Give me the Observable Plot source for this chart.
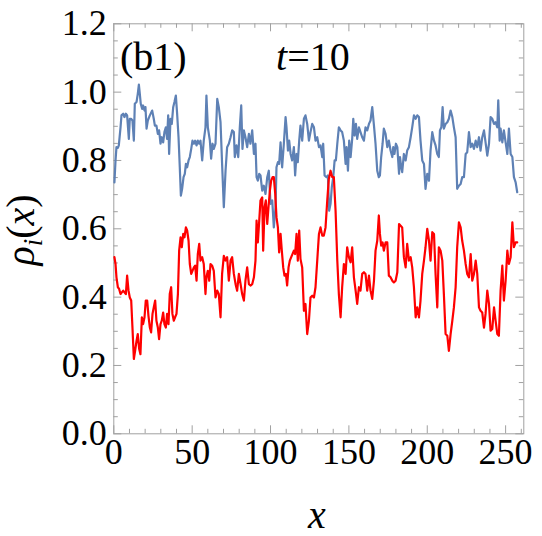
<!DOCTYPE html>
<html><head><meta charset="utf-8">
<script src="https://cdn.jsdelivr.net/npm/d3@7"></script>
<script src="https://cdn.jsdelivr.net/npm/@observablehq/plot@0.6"></script>
<style>body{margin:0;background:#fff;} #chart svg{display:block;}</style>
</head><body><div id="chart"></div>
<script>
// rho_1 (blue) and rho_2 (red) samples: [x, rho]
const blue = [
[0.4,0.736],[1.1,0.800],[1.7,0.839],[2.6,0.837],[3.2,0.844],[4.3,0.897],[4.9,0.932],[6.0,0.937],[6.8,0.927],[7.7,0.937],[8.5,0.932],[9.6,0.863],[10.2,0.922],[11.1,0.922],[11.9,0.917],[12.8,0.858],[13.4,0.966],[14.5,0.971],[15.3,0.995],[16.0,1.022],[16.6,0.995],[17.2,0.966],[18.1,0.951],[18.7,0.961],[19.6,0.946],[20.2,0.956],[20.9,0.893],[21.7,0.917],[23.0,0.932],[24.5,0.946],[25.5,0.922],[26.2,0.902],[27.2,0.902],[28.1,0.878],[28.9,0.888],[29.8,0.849],[30.6,0.868],[31.5,0.853],[32.3,0.883],[33.2,0.897],[34.0,0.863],[34.7,0.932],[35.3,0.819],[36.2,0.922],[37.0,0.907],[37.9,0.956],[38.7,0.971],[39.6,0.990],[40.4,0.937],[41.3,0.868],[42.1,0.780],[42.8,0.697],[43.6,0.717],[44.5,0.751],[45.3,0.761],[46.0,0.790],[46.8,0.780],[47.7,0.800],[48.5,0.810],[49.4,0.834],[50.2,0.858],[51.1,0.849],[51.9,0.858],[52.8,0.844],[53.6,0.858],[54.5,0.849],[55.3,0.858],
[56.4,0.800],[57.4,0.858],[58.5,0.897],[59.1,0.990],[60.0,0.897],[61.3,0.858],[62.1,0.805],[63.0,0.849],[63.8,0.834],[64.9,0.849],[66.0,0.980],[67.0,0.956],[68.1,0.912],[69.1,0.790],[70.2,0.663],[71.3,0.770],[72.3,0.839],[73.4,0.849],[74.5,0.868],[75.5,0.888],[76.6,0.883],[77.2,0.810],[78.3,0.844],[79.4,0.810],[80.4,0.897],[81.3,0.961],[82.1,0.834],[83.0,0.888],[84.0,0.868],[85.1,0.839],[86.2,0.878],[87.2,0.849],[88.3,0.888],[89.4,0.819],[90.4,0.849],[91.1,0.751],[91.9,0.741],[92.8,0.761],[93.6,0.756],[94.7,0.712],[95.7,0.726],[96.8,0.702],[97.9,0.751],[98.9,0.770],[100.0,0.673],[101.1,0.683],[102.1,0.604],[103.2,0.663],[103.8,0.780],[104.7,0.795],[105.5,0.790],[106.4,0.853],[107.4,0.780],[108.5,0.849],[109.6,0.927],[110.2,0.897],[111.1,0.829],[111.9,0.858],[112.8,0.819],[113.8,0.800],[114.9,0.839],[115.7,0.756],[116.6,0.819],[117.4,0.795],[118.3,0.858],[119.1,0.902],
[120.2,0.858],[121.3,0.922],[122.3,0.932],[123.4,0.907],[124.5,0.858],[125.5,0.883],[126.6,0.907],[127.7,0.897],[128.7,0.858],[129.8,0.868],[130.9,0.839],[131.9,0.844],[133.0,0.810],[133.6,0.849],[134.5,0.756],[135.7,0.751],[136.6,0.756],[137.4,0.653],[138.3,0.673],[139.1,0.722],[140.0,0.751],[140.9,0.800],[141.7,0.800],[142.6,0.849],[143.6,0.897],[144.7,0.888],[145.7,0.883],[146.8,0.858],[147.9,0.790],[148.5,0.839],[149.4,0.770],[150.2,0.858],[151.1,0.810],[152.1,0.863],[152.8,0.922],[153.6,0.873],[154.5,0.907],[155.3,0.863],[156.4,0.897],[157.4,0.883],[158.5,0.868],[159.6,0.858],[160.6,0.897],[161.7,0.888],[162.8,0.907],[163.8,0.917],[164.9,0.956],[166.0,0.902],[167.0,0.849],[168.1,0.770],[169.1,0.751],[169.8,0.756],[170.6,0.810],[171.5,0.849],[172.3,0.893],[173.4,0.878],[174.5,0.839],[175.5,0.858],[176.6,0.829],[177.7,0.810],[178.3,0.839],[179.1,0.819],[180.0,0.849],[180.9,0.839],[182.0,0.761],[182.6,0.810],[183.4,0.780],
[184.0,0.766],[185.1,0.819],[186.2,0.800],[187.2,0.829],[188.3,0.839],[189.4,0.868],[190.4,0.897],[191.5,0.932],[192.6,0.922],[193.6,0.932],[194.7,0.927],[195.7,0.858],[196.8,0.800],[197.9,0.790],[198.9,0.717],[200.0,0.761],[201.1,0.741],[202.1,0.829],[203.2,0.883],[204.3,0.858],[205.3,0.844],[206.4,0.819],[207.4,0.810],[208.1,0.888],[209.0,0.897],[209.8,0.956],[210.6,0.893],[211.7,0.907],[212.8,0.912],[213.8,0.922],[214.9,0.946],[216.0,0.927],[217.0,0.897],[218.1,0.868],[219.1,0.717],[220.2,0.726],[221.3,0.731],[222.3,0.751],[223.4,0.751],[224.5,0.819],[225.5,0.824],[226.6,0.883],[227.7,0.839],[228.7,0.849],[229.8,0.834],[230.9,0.858],[231.9,0.839],[233.0,0.868],[234.0,0.829],[235.1,0.868],[236.2,0.888],[237.2,0.853],[238.3,0.814],[239.4,0.849],[240.4,0.927],[241.5,0.922],[242.6,0.907],[243.6,0.912],[244.7,0.897],[245.3,0.976],[246.2,0.858],[246.8,0.893],[247.9,0.853],[248.9,0.888],[250.0,0.853],[251.1,0.819],[252.1,0.893],[253.2,0.819],[254.3,0.810],[255.3,0.751],[256.4,0.736],[257.4,0.707]
];
const red = [
[0.4,0.517],[1.1,0.497],[1.7,0.458],[2.6,0.429],[3.4,0.424],[4.3,0.409],[5.1,0.414],[6.0,0.419],[6.8,0.414],[7.7,0.409],[8.5,0.463],[9.4,0.419],[10.2,0.399],[11.1,0.390],[11.9,0.311],[12.8,0.219],[13.6,0.243],[14.5,0.272],[15.3,0.292],[16.2,0.248],[17.0,0.233],[17.9,0.341],[18.7,0.321],[19.6,0.341],[20.4,0.390],[21.3,0.390],[22.1,0.346],[23.0,0.311],[23.8,0.297],[24.7,0.351],[25.5,0.370],[26.4,0.390],[27.2,0.331],[28.1,0.311],[28.9,0.277],[29.8,0.321],[30.6,0.331],[31.5,0.355],[32.3,0.321],[33.2,0.311],[34.0,0.351],[34.9,0.321],[35.7,0.409],[36.6,0.429],[37.4,0.351],[38.3,0.331],[39.1,0.341],[40.0,0.351],[40.9,0.409],[41.7,0.536],[42.6,0.575],[43.4,0.546],[44.3,0.585],[45.1,0.575],[46.0,0.604],[46.8,0.595],[47.7,0.565],[48.5,0.497],[49.4,0.468],[50.2,0.477],[51.1,0.487],[51.9,0.492],[52.8,0.448],[53.6,0.526],[54.5,0.556],[55.3,0.507],
[56.4,0.517],[57.4,0.497],[58.5,0.409],[59.1,0.458],[60.0,0.477],[60.9,0.448],[61.7,0.497],[62.8,0.492],[63.8,0.477],[64.9,0.399],[66.0,0.419],[67.0,0.409],[68.1,0.341],[69.1,0.468],[70.2,0.521],[71.3,0.507],[72.3,0.517],[73.4,0.448],[74.5,0.507],[75.5,0.517],[76.6,0.468],[77.7,0.438],[78.7,0.419],[79.8,0.468],[80.9,0.438],[81.9,0.409],[83.0,0.390],[84.0,0.448],[85.1,0.487],[86.2,0.438],[87.2,0.434],[88.3,0.438],[89.4,0.458],[90.4,0.507],[91.1,0.624],[91.9,0.560],[92.8,0.624],[93.6,0.683],[94.7,0.692],[95.3,0.536],[96.2,0.663],[97.0,0.683],[97.9,0.614],[98.7,0.663],[99.6,0.712],[100.4,0.741],[101.3,0.751],[102.1,0.751],[103.0,0.702],[103.8,0.634],[104.7,0.604],[105.5,0.531],[106.4,0.585],[107.2,0.536],[108.1,0.487],[108.9,0.463],[109.8,0.468],[110.6,0.434],[111.5,0.487],[112.3,0.507],[113.2,0.517],[114.0,0.526],[114.9,0.536],[115.7,0.526],[116.6,0.585],[117.4,0.507],[118.3,0.595],[119.1,0.512],
[120.2,0.487],[121.3,0.360],[122.3,0.380],[123.4,0.292],[124.5,0.331],[125.5,0.399],[126.6,0.404],[127.7,0.399],[128.7,0.429],[129.8,0.507],[130.9,0.585],[131.9,0.604],[133.0,0.580],[134.0,0.580],[135.1,0.604],[136.2,0.683],[137.2,0.746],[138.3,0.770],[139.4,0.751],[140.4,0.751],[141.5,0.653],[142.6,0.507],[143.6,0.409],[144.7,0.341],[145.7,0.429],[146.8,0.497],[147.9,0.468],[148.9,0.546],[150.0,0.517],[151.1,0.502],[152.1,0.546],[153.2,0.458],[154.3,0.419],[155.3,0.380],[156.4,0.429],[157.4,0.419],[158.5,0.468],[159.6,0.473],[160.6,0.468],[161.7,0.419],[162.8,0.463],[163.8,0.419],[164.9,0.395],[166.0,0.448],[167.0,0.536],[168.1,0.565],[169.1,0.639],[169.8,0.585],[170.6,0.551],[171.5,0.560],[172.3,0.536],[173.4,0.560],[174.5,0.560],[175.5,0.463],[176.6,0.458],[177.7,0.448],[178.7,0.443],[179.8,0.448],[180.9,0.473],[182.0,0.614],[183.0,0.609],
[184.0,0.604],[185.1,0.517],[186.2,0.487],[187.2,0.556],[188.3,0.507],[189.4,0.517],[190.4,0.487],[191.5,0.429],[192.6,0.341],[193.6,0.370],[194.7,0.341],[195.7,0.390],[196.8,0.468],[197.9,0.507],[198.9,0.546],[200.0,0.600],[201.1,0.565],[202.1,0.507],[203.2,0.590],[204.3,0.585],[205.3,0.468],[206.4,0.370],[207.4,0.546],[208.5,0.536],[209.6,0.507],[210.6,0.409],[211.7,0.292],[212.8,0.287],[213.8,0.243],[214.9,0.292],[216.0,0.331],[217.0,0.370],[218.1,0.429],[219.1,0.546],[220.2,0.619],[221.3,0.604],[222.3,0.565],[223.4,0.536],[224.5,0.497],[225.5,0.468],[226.6,0.458],[227.7,0.526],[228.7,0.448],[229.8,0.468],[230.9,0.507],[231.9,0.468],[233.0,0.370],[234.0,0.360],[235.1,0.355],[236.2,0.311],[237.2,0.351],[238.3,0.419],[239.4,0.380],[240.4,0.302],[241.5,0.307],[242.6,0.370],[243.6,0.331],[244.7,0.292],[245.7,0.287],[246.8,0.419],[247.9,0.492],[248.9,0.390],[250.0,0.448],[251.1,0.536],[252.1,0.497],[253.2,0.517],[254.3,0.619],[255.3,0.546],[256.4,0.560],[257.4,0.560]
];
const xMajor = [0, 50, 100, 150, 200, 250];
const xMinor = [10,20,30,40,60,70,80,90,110,120,130,140,160,170,180,190,210,220,230,240,260];
const yMajor = [0, 0.2, 0.4, 0.6, 0.8, 1.0, 1.2];
const yMajorLabels = ["0.0","0.2","0.4","0.6","0.8","1.0","1.2"];
const yMinor = [0.05,0.1,0.15,0.25,0.3,0.35,0.45,0.5,0.55,0.65,0.7,0.75,0.85,0.9,0.95,1.05,1.1,1.15];

const W = 542, H = 536, mL = 113.3, mR = 18.7, mT = 23.3, mB = 102.7;
const pw = W - mL - mR, ph = H - mT - mB;
const frameColor = "#a0a0a0";
const MAJ = 8, MIN = 4.5;
const ff = "'Liberation Serif', Tinos, 'Times New Roman', Times, 'Nimbus Roman', FreeSerif, 'Noto Serif', 'DejaVu Serif', serif";

const chart = Plot.plot({
  width: W, height: H,
  marginLeft: mL, marginRight: mR, marginTop: mT, marginBottom: mB,
  style: {fontFamily: ff, fontSize: "36px", color: "#000", background: "#fff"},
  x: {domain: [0, 261.6]},
  y: {domain: [0, 1.2]},
  marks: [
    Plot.tickX(xMajor, {x: d => d, insetTop: ph - MAJ, stroke: frameColor}),
    Plot.tickX(xMajor, {x: d => d, insetBottom: ph - MAJ, stroke: frameColor}),
    Plot.tickX(xMinor, {x: d => d, insetTop: ph - MIN, stroke: frameColor}),
    Plot.tickX(xMinor, {x: d => d, insetBottom: ph - MIN, stroke: frameColor}),
    Plot.tickY(yMajor, {y: d => d, insetRight: pw - MAJ, stroke: frameColor}),
    Plot.tickY(yMajor, {y: d => d, insetLeft: pw - MAJ, stroke: frameColor}),
    Plot.tickY(yMinor, {y: d => d, insetRight: pw - MIN, stroke: frameColor}),
    Plot.tickY(yMinor, {y: d => d, insetLeft: pw - MIN, stroke: frameColor}),
    Plot.frame({stroke: frameColor, strokeWidth: 1}),
    Plot.axisX(xMajor, {tickSize: 0, tickPadding: 5, label: null, fontSize: 36, fontFamily: ff, fill: "#000"}),
    Plot.axisY(yMajor, {tickSize: 0, tickPadding: 7, label: null, fontSize: 36, fontFamily: ff, fill: "#000",
      tickFormat: (d) => yMajorLabels[yMajor.indexOf(d)]}),
    Plot.line(blue, {x: d => d[0], y: d => d[1], stroke: "#5E81B5", strokeWidth: 2.2}),
    Plot.line(red, {x: d => d[0], y: d => d[1], stroke: "#FF0000", strokeWidth: 2.2})
  ]
});
document.getElementById("chart").appendChild(chart);

const svg = d3.select(chart);
// panel label
svg.append("text").attr("x", 120).attr("y", 70).attr("text-anchor", "start").style("font-family", ff)
  .attr("font-size", 40).attr("fill", "#000").text("(b1)");
const tt = svg.append("text").attr("x", 276).attr("y", 70).attr("text-anchor", "start").style("font-family", ff)
  .attr("font-size", 40).attr("fill", "#000");
tt.append("tspan").attr("font-style", "italic").text("t");
tt.append("tspan").text("=10");
// x axis label
svg.append("text").attr("x", 317).attr("y", 528).attr("text-anchor", "middle").style("font-family", ff)
  .attr("font-size", 40).attr("font-style", "italic").attr("fill", "#000").text("x");
// y axis label, built from rotated pieces: rho, subscript i, (x)
const pieces = [
  {t: "ρ", italic: true, size: 40, shift: 0},
  {t: "i", italic: true, size: 27, shift: 8},
  {t: "(", italic: false, size: 40, shift: 0},
  {t: "x", italic: true, size: 40, shift: 0},
  {t: ")", italic: false, size: 40, shift: 0}
];
const g = svg.append("g");
const nodes = pieces.map(p => g.append("text").attr("text-anchor", "start").style("font-family", ff)
  .attr("font-size", p.size).attr("font-style", p.italic ? "italic" : "normal").attr("fill", "#000").text(p.t));
const lens = nodes.map(n => n.node().getComputedTextLength());
const total = lens.reduce((a, b) => a + b, 0);
let yPos = 230 + total / 2;
nodes.forEach((n, i) => {
  n.attr("transform", `translate(${34 + pieces[i].shift},${yPos}) rotate(-90)`);
  yPos -= lens[i];
});
</script>
</body></html>
